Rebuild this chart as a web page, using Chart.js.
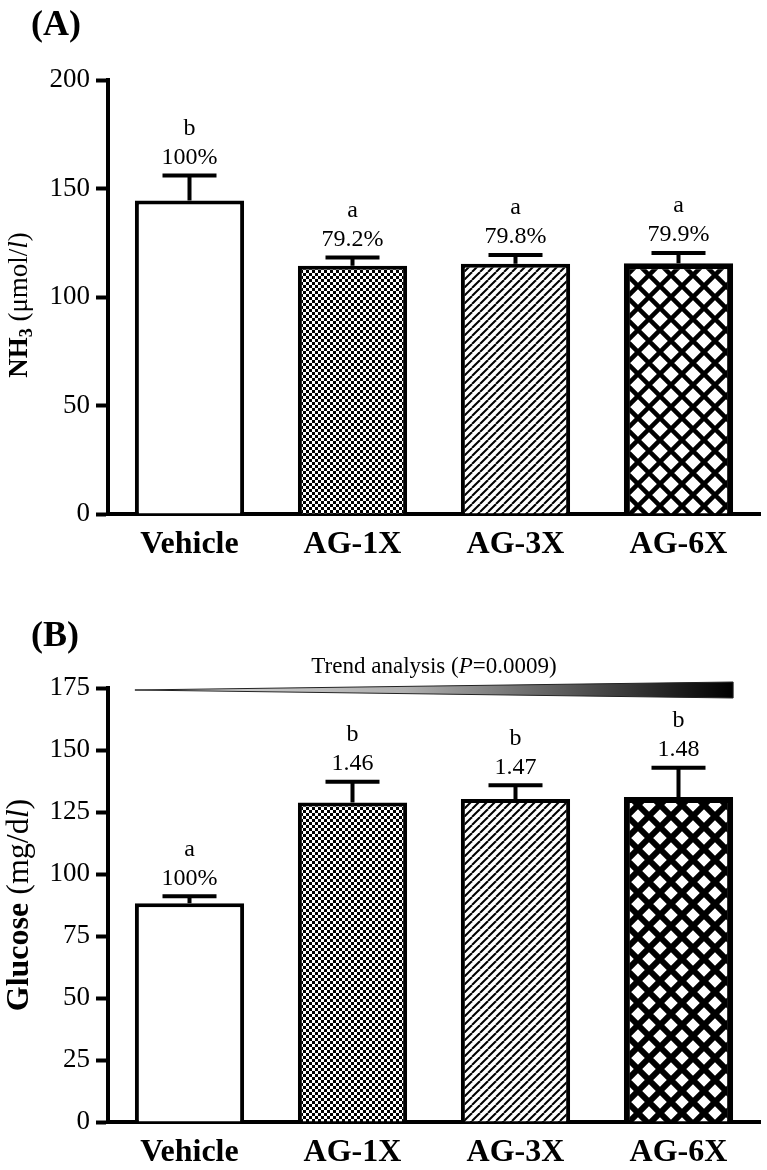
<!DOCTYPE html>
<html>
<head>
<meta charset="utf-8">
<script src="https://cdn.jsdelivr.net/npm/chart.js@4"></script>
<style>
  body { margin: 0; background: #fff; }
  .panel { position: absolute; left: 0; width: 767px; height: 585px; }
  #panelA { top: 0; }
  #panelB { top: 585px; }
</style>
</head>
<body>
<div class="panel" id="panelA"><canvas id="nh3-chart"></canvas></div>
<div class="panel" id="panelB"><canvas id="glucose-chart"></canvas></div>
<script>
// Data

const categories = ["Vehicle", "AG-1X", "AG-3X", "AG-6X"];

const nh3Mean = [144.5, 114.4, 115.3, 115.5];
const nh3Sem = [11.5, 3.8, 4.0, 4.8];
const nh3Letters = ["b", "a", "a", "a"];
const nh3Notes = ["100%", "79.2%", "79.8%", "79.9%"];
const nh3Ticks = [0, 50, 100, 150, 200];

const gluMean = [88.2, 128.8, 130.2, 131.0];
const gluSem = [2.8, 8.4, 5.6, 11.8];
const gluLetters = ["a", "b", "b", "b"];
const gluNotes = ["100%", "1.46", "1.47", "1.48"];
const gluTicks = [0, 25, 50, 75, 100, 125, 150, 175];

const serif = "'Liberation Serif', 'Times New Roman', serif";

// Fill patterns

function makeTile(size, draw) {
  const c = document.createElement("canvas");
  c.width = size;
  c.height = size;
  const g = c.getContext("2d");
  g.fillStyle = "#fff";
  g.fillRect(0, 0, size, size);
  draw(g, size);
  return g.createPattern(c, "repeat");
}

function checker(cell) {
  return makeTile(cell * 2, (g) => {
    g.fillStyle = "#000";
    g.fillRect(0, 0, cell, cell);
    g.fillRect(cell, cell, cell, cell);
  });
}

function hatch(step, lw) {
  return makeTile(step, (g, s) => {
    g.strokeStyle = "#000";
    g.lineWidth = lw;
    for (let k = -1; k <= 1; k++) {
      g.beginPath();
      g.moveTo(k * s, s);
      g.lineTo(k * s + s, 0);
      g.stroke();
    }
  });
}

function cross(step, lw) {
  return makeTile(step, (g, s) => {
    g.strokeStyle = "#000";
    g.lineWidth = lw;
    for (let k = -1; k <= 1; k++) {
      g.beginPath();
      g.moveTo(k * s, s);
      g.lineTo(k * s + s, 0);
      g.moveTo(k * s, 0);
      g.lineTo(k * s + s, s);
      g.stroke();
    }
  });
}

// text runs with mixed fonts (bold / italic / subscript)
function runsWidth(ctx, runs) {
  let w = 0;
  for (const r of runs) {
    ctx.font = r.f;
    w += ctx.measureText(r.t).width;
  }
  return w;
}

function drawRuns(ctx, runs, cx, cy) {
  let x = cx - runsWidth(ctx, runs) / 2;
  ctx.textAlign = "left";
  ctx.textBaseline = "middle";
  for (const r of runs) {
    ctx.font = r.f;
    ctx.fillText(r.t, x, cy + (r.dy || 0));
    x += ctx.measureText(r.t).width;
  }
}

// Error bars, letters and notes above the bars, titles
const annotations = {
  id: "annotations",
  afterDatasetsDraw(chart, args, opts) {
    const ctx = chart.ctx;
    const meta = chart.getDatasetMeta(0);
    const y = chart.scales.y;
    ctx.save();
    ctx.fillStyle = "#000";
    ctx.strokeStyle = "#000";
    ctx.lineWidth = 4;
    opts.mean.forEach((m, i) => {
      const x = meta.data[i].x;
      const yBar = y.getPixelForValue(m);
      const yTop = y.getPixelForValue(m + opts.sem[i]);
      ctx.beginPath();
      ctx.moveTo(x, yBar);
      ctx.lineTo(x, yTop);
      ctx.moveTo(x - 27, yTop);
      ctx.lineTo(x + 27, yTop);
      ctx.stroke();
      ctx.font = "24px " + serif;
      ctx.textAlign = "center";
      ctx.textBaseline = "middle";
      ctx.fillText(opts.notes[i], x, yTop - 18);
      ctx.fillText(opts.letters[i], x, yTop - 47);
    });

    // panel letter
    ctx.font = "bold 36px " + serif;
    ctx.textAlign = "left";
    ctx.textBaseline = "middle";
    ctx.fillText(opts.panel, 31, opts.panelY);

    // y axis title, rotated
    const area = chart.chartArea;
    ctx.translate(20, (area.top + area.bottom) / 2 + opts.titleShift);
    ctx.rotate(-Math.PI / 2);
    drawRuns(ctx, opts.yTitle, 0, 0);
    ctx.restore();

    if (opts.trend) {
      const x0 = meta.data[0].x - meta.data[0].width / 2;
      const x1 = meta.data[3].x + meta.data[3].width / 2;
      const yw = opts.trend.y;
      const grad = ctx.createLinearGradient(x0, 0, x1, 0);
      grad.addColorStop(0, "#d8d8d8");
      grad.addColorStop(0.45, "#b0b0b0");
      grad.addColorStop(1, "#000");
      ctx.save();
      ctx.beginPath();
      ctx.moveTo(x0, yw);
      ctx.lineTo(x1, yw - 8);
      ctx.lineTo(x1, yw + 8);
      ctx.closePath();
      ctx.fillStyle = grad;
      ctx.fill();
      ctx.strokeStyle = "#222";
      ctx.lineWidth = 1;
      ctx.stroke();
      ctx.fillStyle = "#000";
      drawRuns(ctx, [
        { t: "Trend analysis (", f: "23px " + serif },
        { t: "P", f: "italic 23px " + serif },
        { t: "=0.0009)", f: "23px " + serif }
      ], (x0 + x1) / 2, opts.trend.textY);
      ctx.restore();
    }
  }
};

function barOptions(ticks, plugOpts, padTop, padBottom) {
  return {
    responsive: true,
    maintainAspectRatio: false,
    animation: { duration: 0 },
    layout: { padding: { left: 0, right: 7, top: padTop, bottom: padBottom } },
    scales: {
      x: {
        grid: { display: false },
        border: { display: true, width: 4, color: "#000" },
        ticks: { color: "#000", font: { family: serif, size: 32, weight: "bold" }, padding: 4 },
        afterFit: (s) => { s.height = 50; }
      },
      y: {
        min: ticks[0],
        max: ticks[ticks.length - 1],
        afterBuildTicks: (s) => { s.ticks = ticks.map(v => ({ value: v })); },
        grid: { drawOnChartArea: false, tickLength: 12, tickWidth: 4, tickColor: "#000" },
        border: { display: true, width: 4, color: "#000" },
        ticks: { color: "#000", font: { family: serif, size: 27 }, padding: 6 },
        afterFit: (s) => { s.width = 108; }
      }
    },
    plugins: {
      legend: { display: false },
      tooltip: { enabled: false },
      annotations: plugOpts
    }
  };
}

function barDataset(values, fills, borders) {
  return {
    labels: categories,
    datasets: [{
      data: values,
      backgroundColor: fills,
      borderColor: "#000",
      borderWidth: borders,
      barPercentage: 0.67,
      categoryPercentage: 1
    }]
  };
}

// Panel A: ammonia

new Chart(document.getElementById("nh3-chart"), {
  type: "bar",
  data: barDataset(nh3Mean, ["#fff", checker(3), hatch(8, 2), cross(22, 4.5)], [4, 4, 4, 6]),
  options: barOptions(nh3Ticks, {
    mean: nh3Mean, sem: nh3Sem, letters: nh3Letters, notes: nh3Notes,
    panel: "(A)", panelY: 26, titleShift: 8,
    yTitle: [
      { t: "NH", f: "bold 27px " + serif },
      { t: "3", f: "bold 18px " + serif, dy: 7 },
      { t: " (μmol/", f: "27px " + serif },
      { t: "l", f: "italic 27px " + serif },
      { t: ")", f: "27px " + serif }
    ]
  }, 80, 21),
  plugins: [annotations]
});

// Panel B: glucose

new Chart(document.getElementById("glucose-chart"), {
  type: "bar",
  data: barDataset(gluMean, ["#fff", checker(3), hatch(8, 2), cross(22, 6)], [4, 4, 4, 6]),
  options: barOptions(gluTicks, {
    mean: gluMean, sem: gluSem, letters: gluLetters, notes: gluNotes,
    panel: "(B)", panelY: 52, titleShift: 0,
    trend: { y: 105, textY: 82 },
    yTitle: [
      { t: "Glucose", f: "bold 32px " + serif },
      { t: " (mg/d", f: "32px " + serif },
      { t: "l", f: "italic 32px " + serif },
      { t: ")", f: "32px " + serif }
    ]
  }, 103, -2),
  plugins: [annotations]
});
</script>
</body>
</html>
